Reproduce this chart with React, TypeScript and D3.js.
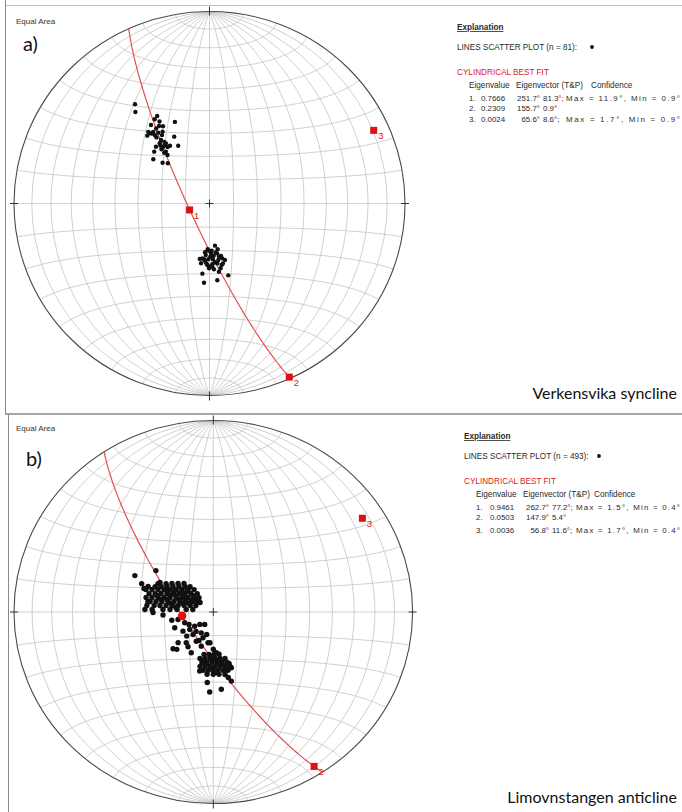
import { useMemo } from 'react';
import * as d3 from 'd3';

type Line = [number, number]; // [trend, plunge] in degrees, lower hemisphere

// a) Verkensvika syncline, 81 lines
const linesA: Line[] = [
  [323.6, 36.0], [321.5, 39.0], [329.6, 46.1], [327.4, 46.8], [323.8, 48.0], [327.4, 50.4], [329.4, 51.4],
  [337.4, 52.0], [320.0, 49.7], [321.0, 51.3], [318.0, 50.7], [321.9, 52.7], [324.6, 52.7], [327.3, 53.4],
  [332.6, 57.8], [320.2, 57.8], [321.3, 58.9], [323.2, 58.9], [323.9, 60.2], [326.1, 60.3], [332.0, 62.1],
  [313.7, 57.9], [320.4, 61.3], [319.6, 62.9], [308.7, 59.8], [311.5, 63.8], [314.5, 65.6], [325.1, 50.6],
  [323.1, 56.0], [320.9, 56.8], [324.2, 57.5], [320.1, 50.6], [322.3, 51.1], [321.8, 53.9], [319.0, 59.3],
  [329.1, 48.8], [324.5, 58.5], [325.7, 54.5], [317.2, 56.9], [318.8, 61.2],
  [172.7, 72.0], [182.2, 70.6], [170.1, 70.3], [185.1, 69.2], [178.3, 68.9], [172.9, 69.1], [167.9, 67.2],
  [189.8, 66.1], [185.5, 66.2], [181.2, 66.3], [176.5, 66.2], [171.3, 65.7], [165.0, 65.1], [183.0, 64.5],
  [177.4, 64.1], [172.7, 64.3], [169.0, 63.3], [179.8, 63.1], [185.7, 59.9], [172.3, 60.6], [165.6, 58.3],
  [183.9, 56.0], [174.3, 57.0], [180.4, 62.4], [180.6, 70.0], [175.5, 67.7], [184.1, 68.1], [187.3, 66.5],
  [179.2, 67.4], [174.8, 64.9], [170.4, 62.0], [182.0, 63.8], [177.5, 63.1], [170.1, 67.1], [167.6, 63.9],
  [184.4, 65.6], [171.6, 68.6], [177.4, 70.0], [187.9, 64.3], [176.2, 61.9], [167.2, 66.1],
];

// b) Limovnstangen anticline (n = 493, many coincide)
const linesB: Line[] = [
  // main cluster
  [298.1, 64.3], [302.0, 67.2], [305.6, 69.2], [310.0, 71.2], [315.3, 73.0],
  [292.1, 61.1], [294.4, 63.8], [296.8, 66.0], [299.8, 68.2], [303.3, 70.3], [307.7, 72.3], [313.1, 74.2], [318.6, 75.7],
  [289.1, 60.7], [290.9, 63.1], [292.9, 65.4], [295.4, 67.7], [298.3, 69.9], [302.1, 72.1], [306.7, 74.1], [312.7, 76.0], [320.5, 77.7],
  [286.6, 62.5], [288.2, 64.9], [290.2, 67.2], [292.5, 69.5], [295.5, 71.8], [299.3, 74.0], [304.2, 76.0], [310.7, 78.0], [319.7, 79.9],
  [282.6, 61.7], [283.8, 64.1], [285.2, 66.6], [287.0, 68.9], [289.2, 71.3], [292.0, 73.6], [295.7, 75.8], [300.7, 78.0], [307.9, 80.2], [316.4, 81.6],
  [279.8, 63.7], [280.8, 66.1], [282.0, 68.5], [283.5, 71.0], [285.5, 73.4], [288.1, 75.7], [291.8, 78.0], [297.1, 80.4], [303.8, 82.0],
  [275.8, 62.6], [276.5, 65.6], [277.2, 68.0], [278.1, 70.5], [279.3, 73.0], [280.8, 75.4], [283.0, 77.8], [286.2, 80.2], [291.3, 82.4],
  [272.4, 64.9], [273.0, 69.4], [273.4, 72.3], [274.1, 75.2], [275.4, 78.9], [277.3, 81.6],
  [295.2, 69.5], [298.4, 71.8], [302.7, 74.4], [309.0, 76.2], [310.1, 79.3], [291.6, 71.0], [294.0, 73.4],
  [300.3, 76.2], [283.9, 68.0], [285.7, 70.4], [290.7, 75.1], [294.6, 77.3], [299.2, 79.8], [286.9, 65.9],
  [281.8, 72.4], [286.3, 77.1], [290.0, 79.5], [277.1, 74.6],
  [295.8, 54.0], [306.9, 60.5], [292.4, 58.1], [289.4, 59.8], [272.2, 61.9], [269.5, 65.3], [266.5, 69.4],
  [258.4, 72.7], [279.5, 62.8], [306.6, 83.3], [299.9, 64.8],
  // along the girdle
  [257.6, 75.3], [248.6, 77.5], [247.0, 72.9], [236.7, 75.2], [232.4, 77.9], [231.6, 80.3], [226.3, 82.4],
  [213.6, 83.7], [221.0, 77.4], [209.1, 79.9], [227.8, 70.6], [226.5, 67.3], [220.2, 72.9], [209.3, 75.8],
  [201.0, 78.3], [189.4, 76.8], [207.5, 70.5], [215.0, 72.0], [198.7, 74.7], [175.9, 72.7], [241.9, 78.8],
  [220.5, 79.2], [195.8, 80.1], [185.9, 76.9], [180.0, 74.2], [223.2, 68.2], [226.7, 75.1], [205.8, 76.6],
  // southern cluster
  [191.9, 71.6], [185.6, 71.9], [179.1, 72.0], [172.6, 71.9],
  [195.4, 69.5], [189.7, 70.0], [183.9, 70.2], [178.0, 70.3], [172.1, 70.1], [166.4, 69.7],
  [192.2, 68.0], [186.9, 68.4], [181.4, 68.6], [176.0, 68.5], [170.6, 68.3], [165.4, 67.8],
  [193.2, 66.2], [188.3, 66.6], [183.3, 66.8], [178.3, 66.8], [173.3, 66.7], [168.3, 66.4], [163.6, 65.9],
  [189.6, 64.8], [185.0, 65.0], [180.3, 65.1], [175.6, 65.0], [170.9, 64.8], [166.4, 64.4],
  [185.5, 63.3], [180.0, 63.4], [175.0, 63.3], [169.8, 62.9],
  [181.6, 71.2], [174.7, 69.3], [187.6, 67.5], [170.9, 67.4], [181.3, 66.0], [168.0, 65.0], [177.5, 64.2],
  [190.5, 69.1], [163.6, 67.2],
  [192.5, 64.2], [184.7, 59.7], [174.3, 56.7], [165.9, 59.5], [182.5, 55.6], [162.7, 65.1], [167.6, 61.3],
];

// cylindrical best fit
const eigenvaluesA = ['0.7666', '0.2309', '0.0024'];
const eigenTrendsA = [251.7, 155.7, 65.6];
const eigenPlungesA = [81.3, 0.9, 8.6];
const confidenceA = ['Max = 11.9°, Min =  0.9°', '', 'Max =  1.7°, Min =  0.9°'];

const eigenvaluesB = ['0.9461', '0.0503', '0.0036'];
const eigenTrendsB = [262.7, 147.9, 56.8];
const eigenPlungesB = [77.2, 5.4, 11.6];
const confidenceB = ['Max =  1.5°, Min =  0.4°', '', 'Max =  1.7°, Min =  0.4°'];

const RAD = Math.PI / 180;
const FONT = 'Arial, "Liberation Sans", sans-serif';

// lower-hemisphere line -> lon/lat for an equatorial azimuthal projection (centre = vertical)
function toLonLat(trend: number, plunge: number): [number, number] {
  const t = trend * RAD, p = plunge * RAD;
  const e = Math.cos(p) * Math.sin(t), n = Math.cos(p) * Math.cos(t), d = Math.sin(p);
  return [Math.atan2(e, d) / RAD, Math.asin(n) / RAD];
}

// great circle whose pole is (trend, plunge), lower hemisphere only
function planeFromPole(trend: number, plunge: number): [number, number][] {
  const t = trend * RAD, p = plunge * RAD;
  const a = [Math.cos(t), -Math.sin(t), 0];
  const b = [-Math.sin(p) * Math.sin(t), -Math.sin(p) * Math.cos(t), Math.cos(p)];
  return d3.range(0, 180.01, 1).map(deg => {
    const c = Math.cos(deg * RAD), s = Math.sin(deg * RAD);
    const e = c * a[0] + s * b[0], n = c * a[1] + s * b[1], dn = Math.max(0, s * b[2]);
    return [Math.atan2(e, dn) / RAD, Math.asin(Math.max(-1, Math.min(1, n))) / RAD];
  });
}

interface NetProps {
  cx: number; cy: number; rx: number; ry: number;
  lines: Line[]; eigT: number[]; eigP: number[]; dotR: number;
  roundFirst?: boolean; hideFirstLabel?: boolean;
}

function Stereonet({ cx, cy, rx, ry, lines, eigT, eigP, dotR, roundFirst, hideFirstLabel }: NetProps) {
  const k = ry / rx;
  const { grid, fit, dots, eig } = useMemo(() => {
    const proj = d3.geoAzimuthalEqualArea().scale(rx / Math.SQRT2).translate([cx, cy]).precision(0.2);
    const path = d3.geoPath(proj);
    const meridians = d3.range(-80, 81, 10).map(lon => [[lon, -90], [lon, -45], [lon, 0], [lon, 45], [lon, 90]]);
    const parallels = d3.range(-80, 81, 10).map(lat => d3.range(-90, 90.01, 2).map(lon => [lon, lat]));
    const grid = path({ type: 'MultiLineString', coordinates: [...meridians, ...parallels] } as any) ?? '';
    const xy = (ll: [number, number]): [number, number] => {
      const [x, y] = proj(ll)!;
      return [x, cy + (y - cy) * k];
    };
    const fit = d3.line()(planeFromPole(eigT[2], eigP[2]).map(xy)) ?? '';
    const dots = lines.map(([t, p]) => xy(toLonLat(t, p)));
    const eig = eigT.map((t, i) => xy(toLonLat(t, eigP[i])));
    return { grid, fit, dots, eig };
  }, [cx, cy, rx, ry, k, lines, eigT, eigP]);

  const squash = `translate(0,${cy}) scale(1,${k}) translate(0,${-cy})`;
  const red = '#e01010';

  return (
    <g>
      <g transform={squash}>
        <path d={grid} fill="none" stroke="#c4c4c4" strokeWidth={0.8} vectorEffect="non-scaling-stroke" />
      </g>
      <ellipse cx={cx} cy={cy} rx={rx} ry={ry} fill="none" stroke="#4a4a4a" strokeWidth={1.1} />
      {/* N, S, E, W ticks and centre cross */}
      <g stroke="#333" strokeWidth={1}>
        <line x1={cx} x2={cx} y1={cy - ry - 5} y2={cy - ry + 4} />
        <line x1={cx} x2={cx} y1={cy + ry - 4} y2={cy + ry + 5} />
        <line x1={cx - rx - 4} x2={cx - rx + 4} y1={cy} y2={cy} />
        <line x1={cx + rx - 4} x2={cx + rx + 4} y1={cy} y2={cy} />
        <line x1={cx - 4} x2={cx + 4} y1={cy} y2={cy} />
        <line x1={cx} x2={cx} y1={cy - 4} y2={cy + 4} />
      </g>
      <path d={fit} fill="none" stroke="#e35050" strokeWidth={1.2} />
      {eig.map(([x, y], i) => (i === 0 && hideFirstLabel) ? null : (
        <text key={`l${i}`} x={x + 4.5} y={y + 9} fontSize={9.5} fill={red} fontFamily={FONT}>{i + 1}</text>
      ))}
      {dots.map(([x, y], i) => <circle key={i} cx={x} cy={y} r={dotR} fill="#111" />)}
      {eig.map(([x, y], i) => (i === 0 && roundFirst)
        ? <circle key={`e${i}`} cx={x} cy={y} r={4.3} fill={red} />
        : <rect key={`e${i}`} x={x - 3.5} y={y - 3.5} width={7} height={7} fill={red} />)}
    </g>
  );
}

interface LegendProps {
  x: number; y: number; n: number; head: number[];
  values: string[]; trends: number[]; plunges: number[]; conf: string[];
  numX: number; valX: number; trendEnd: number; plungeX: number; confX: number; rowY: number[];
}

function Legend({ x, y, n, head, values, trends, plunges, conf, numX, valX, trendEnd, plungeX, confX, rowY }: LegendProps) {
  return (
    <g fontFamily={FONT} fontSize={8.2} fill="#2a2a2a">
      <text x={x} y={y} fontWeight="bold" textDecoration="underline">Explanation </text>
      <text x={x} y={y + 20}>LINES SCATTER PLOT (n = {n}):</text>
      <circle cx={x + 135} cy={y + 17} r={1.9} fill="#111" />
      <text x={x} y={y + 45} fill="#e01818">CYLINDRICAL BEST FIT</text>
      <text x={head[0]} y={y + 58}>Eigenvalue</text>
      <text x={head[1]} y={y + 58}>Eigenvector (T&amp;P)</text>
      <text x={head[2]} y={y + 58}>Confidence</text>
      <g fontSize={7.9}>
        {values.map((v, i) => (
          <g key={i}>
            <text x={numX} y={rowY[i]}>{i + 1}.</text>
            <text x={valX} y={rowY[i]}>{v}</text>
            <text x={trendEnd} y={rowY[i]} textAnchor="end">{trends[i].toFixed(1)}°</text>
            <text x={plungeX} y={rowY[i]}>{plunges[i].toFixed(1)}°{conf[i] ? ';' : ''}</text>
            {conf[i] && <text x={confX} y={rowY[i]} textLength={680 - confX} lengthAdjust="spacing">{conf[i]}</text>}
          </g>
        ))}
      </g>
    </g>
  );
}

export default function App() {
  return (
    <svg width={682} height={812} style={{ position: 'absolute', left: 0, top: 0, background: '#fff' }}>
      <rect width={682} height={812} fill="#fff" />
      {/* frames */}
      <g stroke="#8a8a8a" fill="none">
        <line x1={5} x2={682} y1={5.5} y2={5.5} strokeWidth={0.8} stroke="#b0b0b0" />
        <line x1={5.5} x2={5.5} y1={0} y2={414} strokeWidth={1} />
        <line x1={5} x2={682} y1={414} y2={414} strokeWidth={1.6} />
        <line x1={8.5} x2={8.5} y1={414} y2={812} strokeWidth={1} />
      </g>

      {/* panel a */}
      <text x={16} y={24} fontSize={8} fontFamily={FONT} fill="#333">Equal Area</text>
      <text x={23} y={51} fontSize={20} fontFamily="Lato, sans-serif" fill="#111">a)</text>
      <Stereonet cx={209.5} cy={203.5} rx={195.5} ry={192} lines={linesA} eigT={eigenTrendsA} eigP={eigenPlungesA} dotR={2.2} />
      <Legend x={457} y={30} n={81} head={[469, 516, 591]} values={eigenvaluesA} trends={eigenTrendsA}
        plunges={eigenPlungesA} conf={confidenceA} numX={469} valX={481} trendEnd={540} plungeX={543}
        confX={566} rowY={[100.5, 111, 121.5]} />
      <text x={677} y={399} textAnchor="end" fontSize={16} fontFamily="Lato, sans-serif" fill="#111">Verkensvika syncline</text>

      {/* panel b */}
      <text x={16} y={431} fontSize={8} fontFamily={FONT} fill="#333">Equal Area</text>
      <text x={26} y={466} fontSize={20} fontFamily="Lato, sans-serif" fill="#111">b)</text>
      <Stereonet cx={213.3} cy={612} rx={199.3} ry={191.5} lines={linesB} eigT={eigenTrendsB} eigP={eigenPlungesB}
        dotR={2.7} roundFirst hideFirstLabel />
      <Legend x={464} y={439} n={493} head={[476, 523, 594]} values={eigenvaluesB} trends={eigenTrendsB}
        plunges={eigenPlungesB} conf={confidenceB} numX={476} valX={490} trendEnd={549} plungeX={552}
        confX={576} rowY={[510, 520, 533]} />
      <text x={677} y={803} textAnchor="end" fontSize={16} fontFamily="Lato, sans-serif" fill="#111">Limovnstangen anticline</text>
    </svg>
  );
}
